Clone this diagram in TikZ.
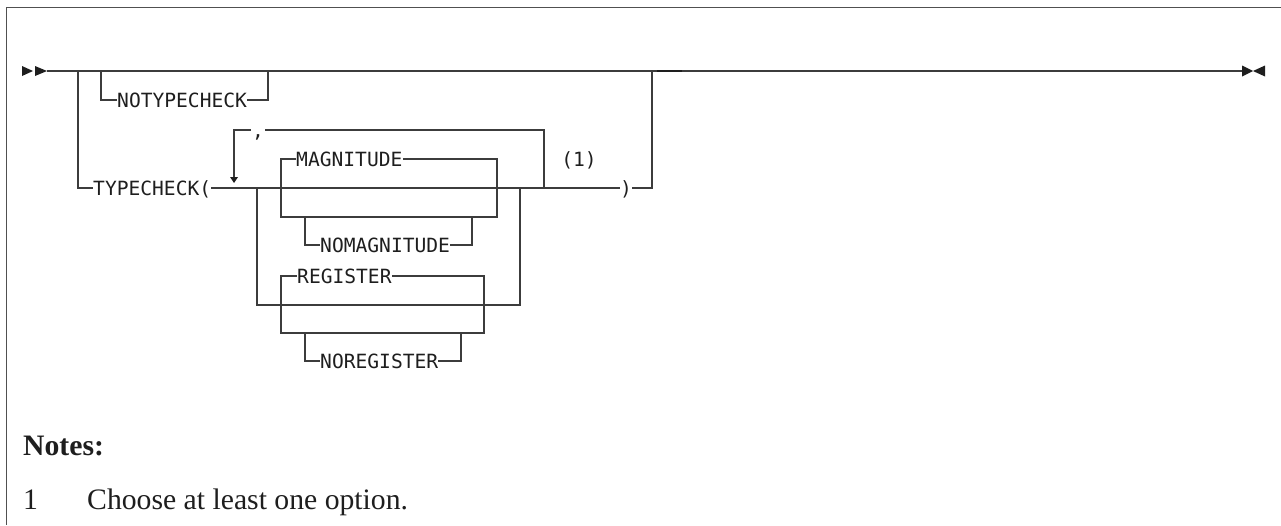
\documentclass[tikz,border=0pt]{standalone}
\usepackage{fontspec}
\setmainfont{Liberation Serif}
\newfontfamily\kwf{DejaVu Sans Mono}
\definecolor{rail}{RGB}{60,60,60}
\definecolor{ink}{RGB}{30,30,30}
\definecolor{frame}{RGB}{80,80,80}
\begin{document}
\begin{tikzpicture}[x=1pt,y=-1pt,
  rail/.style={draw=rail,line width=1.3pt},
  kw/.style={font=\kwf\fontsize{19.6}{20}\selectfont,text=ink,inner sep=0pt,
    text height=14.3pt,text depth=0pt,anchor=west},
  tip/.style={fill=ink,draw=none},
  note/.style={font=\fontsize{29.7}{30}\selectfont,text=ink,inner sep=0pt,anchor=base west}]
\useasboundingbox (0,0) rectangle (1281,525);
% frame
\draw[frame,line width=1.8pt] (1281,7.5) -- (6.5,7.5) -- (6.5,525);
% coordinates
\coordinate (s) at (47,71);
\coordinate (e) at (1242,71);
\coordinate (jA) at (78,71);
\coordinate (jN1) at (101,71);
\coordinate (jN2) at (268,71);
\coordinate (jT) at (652,71);
\coordinate (rpL) at (234,130);
\coordinate (rpT) at (234,177);
\coordinate (cmL) at (251,130);
\coordinate (cmR) at (265,130);
\coordinate (rpR) at (544,130);
\coordinate (rpRb) at (544,188);
\coordinate (oL) at (257,188);
\coordinate (oLb) at (257,305);
\coordinate (oRb) at (520,305);
\coordinate (oR) at (520,188);
\coordinate (mgBL) at (281,217);
\coordinate (mgBR) at (497,217);
\coordinate (nmL) at (305,217);
\coordinate (nmR) at (472,217);
\coordinate (rgBL) at (281,333);
\coordinate (rgBR) at (484,333);
\coordinate (nrL) at (305,333);
\coordinate (nrR) at (461,333);
\coordinate (hv1) at (657,71);
\coordinate (hv2) at (682,71);
% keyword nodes
\node[kw] (notc) at (117,100) {NOTYPECHECK};
\node[kw] (tc) at (93,188) {TYPECHECK(};
\node[kw,anchor=base,text height=,text depth=] (comma) at (258,137) {,};
\node[kw] (mag) at (296,159) {MAGNITUDE};
\node[kw] (nomag) at (320,245) {NOMAGNITUDE};
\node[kw] (reg) at (297,276) {REGISTER};
\node[kw] (noreg) at (320,361) {NOREGISTER};
\node[kw,anchor=center] (fn) at (579,159) {(1)};
\node[kw] (rp) at (620,188) {)};
% main line and ends
\draw[rail] (s) -- (e);
\fill[tip] (22,66) -- (33,71) -- (22,76) -- cycle;
\fill[tip] (35,66) -- (47,71) -- (35,76) -- cycle;
\fill[tip] (1242,65.5) -- (1253,71) -- (1242,76.5) -- cycle;
\fill[tip] (1265,65.5) -- (1253,71) -- (1265,76.5) -- cycle;
\draw[draw=ink,line width=2.2pt] (hv1) -- (hv2);
% NOTYPECHECK branch
\draw[rail] (jN1) |- (notc.west);
\draw[rail] (notc.east) -| (jN2);
% TYPECHECK branch
\draw[rail] (jA) |- (tc.west);
\draw[rail] (tc.east) -- (rp.west);
\draw[rail] (rp.east) -| (jT);
% repeat loop
\draw[rail] (rpT) -- (rpL) -- (cmL);
\fill[tip] (230,177) -- (238,177) -- (234,183) -- cycle;
\draw[rail] (cmR) -- (rpR) -- (rpRb);
% outer lower path
\draw[rail] (oL) -- (oLb) -- (oRb) -- (oR);
% MAGNITUDE group
\draw[rail] (mag.west) -| (mgBL) -- (mgBR) |- (mag.east);
\draw[rail] (nmL) |- (nomag.west);
\draw[rail] (nomag.east) -| (nmR);
% REGISTER group
\draw[rail] (reg.west) -| (rgBL) -- (rgBR) |- (reg.east);
\draw[rail] (nrL) |- (noreg.west);
\draw[rail] (noreg.east) -| (nrR);
% notes
\node[note,font=\bfseries\fontsize{29.7}{30}\selectfont] (nt) at (23,455) {Notes:};
\node[note] (n1) at (23,509) {1};
\node[note] (n1t) at (87,509) {Choose at least one option.};
\end{tikzpicture}
\end{document}
